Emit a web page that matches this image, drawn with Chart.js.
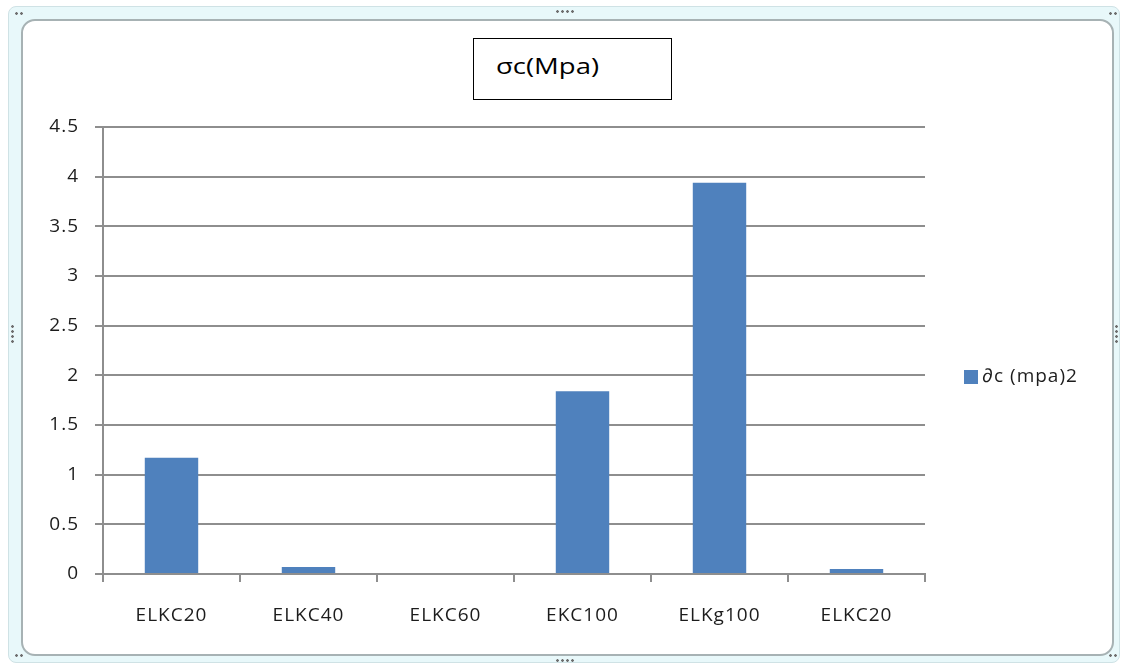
<!DOCTYPE html>
<html>
<head>
<meta charset="utf-8">
<script src="https://cdn.jsdelivr.net/npm/chart.js@4.4.1/dist/chart.umd.min.js"></script>
<style>
  html, body { margin: 0; padding: 0; background: #fff; }
  #wrap { position: relative; width: 1124px; height: 666px; overflow: hidden; }
  .frame { position: absolute; left: 8px; top: 6px; width: 1112px; height: 657px; box-sizing: border-box;
           border: 1px solid #cfe2e5; border-radius: 8px; background: #e8f8fa; }
  .inner { position: absolute; left: 21px; top: 19px; width: 1093px; height: 637px; box-sizing: border-box;
           border: 2px solid #a7b2b4; border-radius: 14px; background: #fff; }
  .dots { position: absolute; height: 3px; background: radial-gradient(circle, #6f6f6f 1px, transparent 1.6px) 0 0 / 5px 3px repeat-x; }
  .vdots { position: absolute; width: 3px; background: radial-gradient(circle, #6f6f6f 1px, transparent 1.6px) 0 0 / 3px 5px repeat-y; }
  #titleBox { position: absolute; left: 473px; top: 38px; width: 199px; height: 62px; box-sizing: border-box;
              border: 1px solid #000; background: #fff; color: #000; padding-left: 22px; line-height: 60px; }
  #titleBox span { display: inline-block; font: 22px "Open Sans", sans-serif; transform: scaleX(1.25); transform-origin: left center; }
  canvas { position: absolute; left: 0; top: 0; }
</style>
</head>
<body>
<div id="wrap">
  <div class="frame"></div>
  <div class="inner"></div>
  <div class="dots" style="left:555px; top:10px; width:20px;"></div>
  <div class="dots" style="left:555px; top:659px; width:20px;"></div>
  <div class="vdots" style="left:11px; top:324px; height:20px;"></div>
  <div class="vdots" style="left:1115px; top:324px; height:20px;"></div>
  <div class="dots" style="left:14px; top:12px; width:10px;"></div>
  <div class="dots" style="left:1108px; top:12px; width:10px;"></div>
  <div class="dots" style="left:14px; top:654px; width:10px;"></div>
  <div class="dots" style="left:1108px; top:654px; width:10px;"></div>
  <div id="titleBox"><span>σc(Mpa)</span></div>
  <canvas id="myChart" width="1124" height="666"></canvas>
</div>
<script>
// Valeurs du graphique
const categories = ['ELKC20', 'ELKC40', 'ELKC60', 'EKC100', 'ELKg100', 'ELKC20'];
const seriesLabel = '∂c (mpa)2';
const seriesValues = [1.17, 0.07, 0, 1.84, 3.94, 0.05];
const yMin = 0;
const yMax = 4.5;
const yStep = 0.5;

const barColor = '#4F81BD';
const gridColor = '#8e8e8e';
const textColor = '#1c1c1c';
const fontFamily = '"Open Sans", sans-serif';
const tickFont = { family: fontFamily, size: 19, weight: '500' };

// Texte un peu plus espacé, comme dans Excel
const espacement = {
    id: 'espacement',
    beforeDraw(chart) {
        chart.ctx.letterSpacing = '1px';
    }
};

// Légende dessinée à droite de la zone du graphique
const legendeDroite = {
    id: 'legendeDroite',
    afterDraw(chart) {
        const ctx = chart.ctx;
        const area = chart.chartArea;
        const ds = chart.data.datasets[0];
        const x = area.right + 39;
        const y = 377;
        ctx.save();
        ctx.fillStyle = ds.backgroundColor;
        ctx.fillRect(x, y - 7, 14, 14);
        ctx.fillStyle = textColor;
        ctx.font = '500 19px ' + fontFamily;
        ctx.letterSpacing = '1px';
        ctx.textAlign = 'left';
        ctx.textBaseline = 'middle';
        ctx.fillText(ds.label, x + 18, y);
        ctx.restore();
    }
};

window.addEventListener('load', function () {
    const ctx = document.getElementById('myChart');
    new Chart(ctx, {
        type: 'bar',
        data: {
            labels: categories,
            datasets: [{
                label: seriesLabel,
                data: seriesValues,
                backgroundColor: barColor,
                borderWidth: 0,
                barPercentage: 0.39,
                categoryPercentage: 1
            }]
        },
        options: {
            responsive: false,
            animation: false,
            layout: {
                padding: { left: 40, top: 127, right: 199, bottom: 0 }
            },
            plugins: {
                legend: { display: false },
                title: { display: false },
                tooltip: { enabled: false }
            },
            scales: {
                x: {
                    grid: {
                        offset: true,
                        drawOnChartArea: false,
                        drawTicks: true,
                        tickLength: 8,
                        color: gridColor,
                        lineWidth: 2
                    },
                    border: { color: gridColor, width: 2 },
                    ticks: {
                        color: textColor,
                        font: tickFont,
                        padding: 22,
                        maxRotation: 0
                    },
                    afterFit: scale => { scale.height = 92; }
                },
                y: {
                    min: yMin,
                    max: yMax,
                    grid: {
                        color: gridColor,
                        lineWidth: 2,
                        tickLength: 8
                    },
                    border: { color: gridColor, width: 2 },
                    ticks: {
                        stepSize: yStep,
                        color: textColor,
                        font: tickFont,
                        padding: 16,
                        callback: value => String(value)
                    },
                    afterFit: scale => { scale.width = 63; }
                }
            }
        },
        plugins: [espacement, legendeDroite]
    });
}, false);
</script>
</body>
</html>
